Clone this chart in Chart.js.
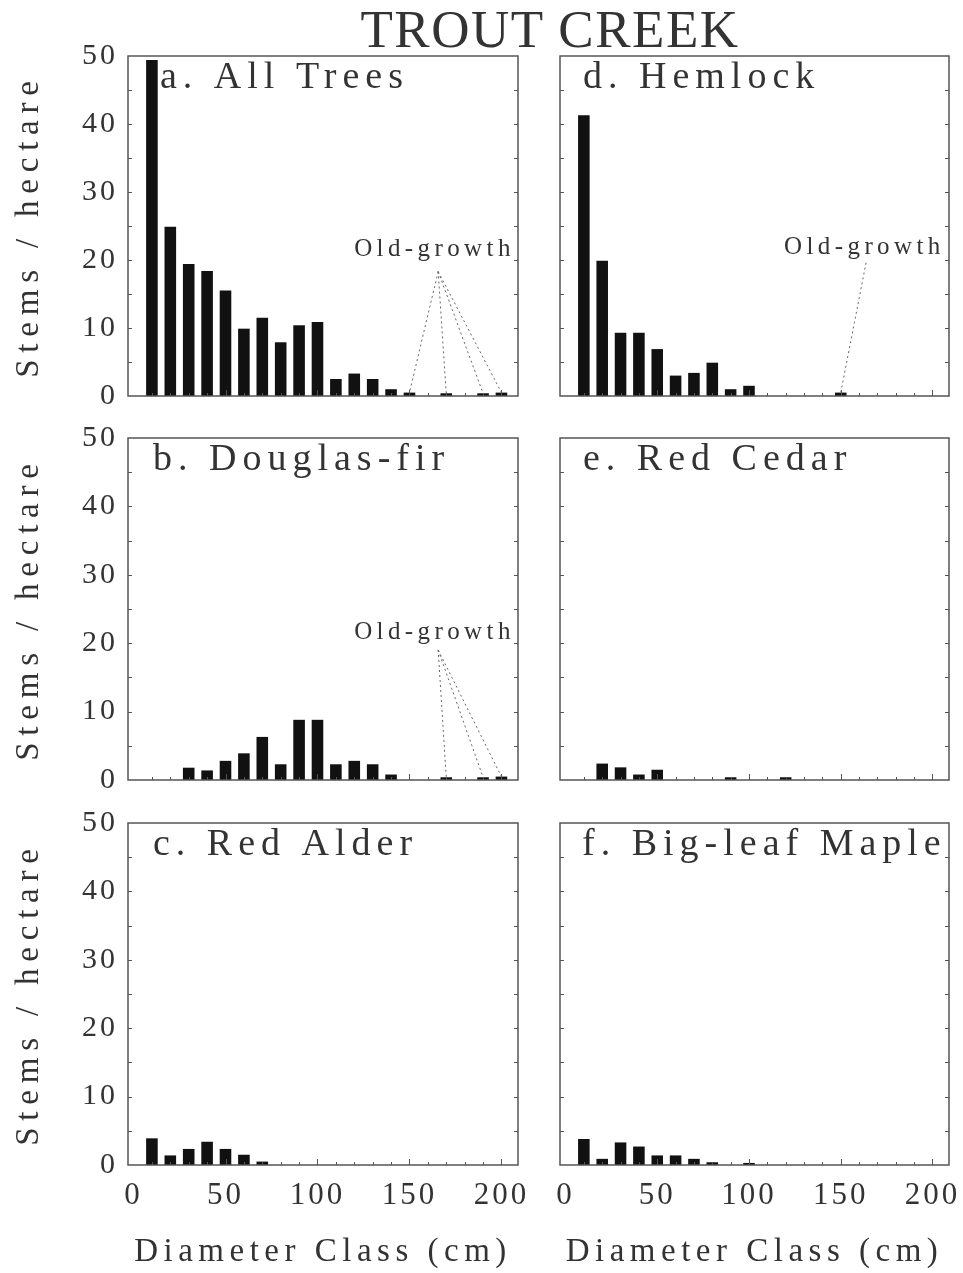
<!DOCTYPE html>
<html>
<head>
<meta charset="utf-8">
<script src="https://cdn.jsdelivr.net/npm/chart.js@4.4.1/dist/chart.umd.min.js"></script>
<style>
html,body{margin:0;padding:0;background:#fff;width:963px;height:1273px;overflow:hidden;}
canvas{position:absolute;}
#title{position:absolute;left:300px;width:500px;top:3px;text-align:center;
  font-family:"Liberation Serif",serif;font-size:53px;line-height:53px;letter-spacing:1.5px;color:#333;}
</style>
</head>
<body>
<div id="title">TROUT CREEK</div>
<canvas id="cA" width="540" height="420" style="left:0;top:0"></canvas>
<canvas id="cD" width="423" height="420" style="left:540px;top:0"></canvas>
<canvas id="cB" width="540" height="385" style="left:0;top:420px"></canvas>
<canvas id="cE" width="423" height="385" style="left:540px;top:420px"></canvas>
<canvas id="cC" width="540" height="468" style="left:0;top:805px"></canvas>
<canvas id="cF" width="423" height="468" style="left:540px;top:805px"></canvas>
<script>
// ---- data (stems / hectare by diameter class, cm) ----
const diameterClasses = [10,20,30,40,50,60,70,80,90,100,110,120,130,140,150,160,170,180,190,200];
const allTrees     = [49.4,24.9,19.4,18.4,15.5,9.9,11.5,7.9,10.4,10.9,2.5,3.3,2.5,1.0,0.5,0,0.4,0,0.4,0.5];
const douglasFir   = [0,0,1.8,1.4,2.8,3.9,6.3,2.3,8.8,8.8,2.3,2.8,2.3,0.8,0,0,0.4,0,0.4,0.5];
const redAlder     = [3.9,1.4,2.35,3.4,2.35,1.5,0.5,0,0,0,0,0,0,0,0,0,0,0,0,0];
const hemlock      = [41.3,19.9,9.3,9.3,6.9,3.0,3.4,4.9,1.0,1.5,0,0,0,0,0.5,0,0,0,0,0];
const redCedar     = [0,2.4,1.85,0.8,1.5,0,0,0,0.4,0,0,0.4,0,0,0,0,0,0,0,0];
const bigLeafMaple = [3.8,0.9,3.3,2.7,1.4,1.4,0.9,0.4,0,0.3,0,0,0,0,0,0,0,0,0,0];
const xTickLabels  = [0,50,100,150,200];
const yTickLabels  = [0,10,20,30,40,50];
// old-growth annotation: label anchor and apex (data units), target classes
const ogAllTrees = {text:[162.5,20.6], apex:[165.6,18.3], targets:[150,170,190,200]};
const ogDougFir  = {text:[162.5,20.6], apex:[165.6,19.0], targets:[170,190,200]};
const ogHemlock  = {text:[161.8,20.9], apex:[163.8,19.6], targets:[150]};

const FONT = '"Liberation Serif", "DejaVu Serif", serif';
const TXT = '#333';
const FRAME = '#555';
const TICK_SPACING = '3px';
const X_TITLE_SPACING = '5.5px';
const Y_TITLE_SPACING = '6.8px';

// letter spacing for axis text (typewriter look)
if (Chart.Scale && Chart.Scale.prototype) {
  const P = Chart.Scale.prototype;
  const oTitle = P.drawTitle, oLabels = P.drawLabels;
  P.drawTitle = function () {
    const c = this.ctx, prev = c.letterSpacing;
    c.letterSpacing = this.isHorizontal() ? X_TITLE_SPACING : Y_TITLE_SPACING;
    oTitle.apply(this, arguments); c.letterSpacing = prev || '0px';
  };
  P.drawLabels = function () {
    const c = this.ctx, prev = c.letterSpacing;
    c.letterSpacing = TICK_SPACING; oLabels.apply(this, arguments); c.letterSpacing = prev || '0px';
  };
}

const decor = {
  id: 'decor',
  afterDatasetsDraw(chart, args, opts) {
    const {ctx, chartArea: a, scales: {x, y}} = chart;
    ctx.save();
    ctx.strokeStyle = FRAME;
    ctx.lineWidth = 1.5;
    ctx.strokeRect(a.left, a.top, a.right - a.left, a.bottom - a.top);
    ctx.lineWidth = 1;
    for (let v = 5; v < 50; v += 5) {
      const py = Math.round(y.getPixelForValue(v)) + 0.5;
      ctx.beginPath();
      ctx.moveTo(a.left, py); ctx.lineTo(a.left + 4, py);
      ctx.moveTo(a.right - 4, py); ctx.lineTo(a.right, py);
      ctx.stroke();
    }
    for (let v = 10; v <= 200; v += 10) {
      const px = Math.round(x.getPixelForValue(v)) + 0.5;
      const len = v % 50 === 0 ? 6 : 3;
      ctx.beginPath();
      ctx.moveTo(px, a.bottom); ctx.lineTo(px, a.bottom - len);
      ctx.stroke();
    }
    // panel label
    ctx.fillStyle = TXT;
    ctx.font = '38px ' + FONT;
    ctx.letterSpacing = '6px';
    ctx.textBaseline = 'alphabetic';
    ctx.textAlign = 'left';
    ctx.fillText(opts.label, a.left + opts.dx, a.top + 32);
    // old-growth annotation
    const og = opts.og;
    if (og) {
      const vals = chart.data.datasets[0].data;
      ctx.font = '25px ' + FONT;
      ctx.letterSpacing = '4.4px';
      ctx.textAlign = 'center';
      ctx.fillText('Old-growth', x.getPixelForValue(og.text[0]) + 2, y.getPixelForValue(og.text[1]));
      ctx.strokeStyle = '#666';
      ctx.setLineDash([2, 3]);
      ctx.lineWidth = 1;
      const ax = x.getPixelForValue(og.apex[0]), ay = y.getPixelForValue(og.apex[1]);
      og.targets.forEach(t => {
        const pt = vals.find(p => p.x === t);
        ctx.beginPath();
        ctx.moveTo(ax, ay);
        ctx.lineTo(x.getPixelForValue(t), y.getPixelForValue(pt.y));
        ctx.stroke();
      });
    }
    ctx.letterSpacing = '0px';
    ctx.restore();
  }
};

function makePanel(id, values, cfg) {
  const left = cfg.col === 0;
  const bottom = cfg.row === 2;
  const pads = [{top:56, bottom:24}, {top:18, bottom:25}, {top:18, bottom:0}][cfg.row];
  new Chart(document.getElementById(id), {
    type: 'bar',
    data: {
      datasets: [{
        data: diameterClasses.map((d, i) => ({x: d, y: values[i]})),
        backgroundColor: '#111',
        borderWidth: 0,
        barPercentage: 0.63,
        categoryPercentage: 1.0
      }]
    },
    options: {
      responsive: false,
      animation: false,
      layout: {padding: {left: 0, right: left ? 22 : 14, top: pads.top, bottom: pads.bottom}},
      plugins: {
        legend: {display: false},
        tooltip: {enabled: false},
        decor: {label: cfg.label, dx: cfg.dx, og: cfg.og || null}
      },
      scales: {
        x: {
          type: 'linear',
          min: -3, max: 209,
          offset: false,
          grid: {display: false, drawTicks: false},
          border: {display: false},
          afterBuildTicks: s => { s.ticks = xTickLabels.map(v => ({value: v})); },
          afterFit: s => { s.height = bottom ? 108 : 0; s.paddingLeft = 0; s.paddingRight = 0; },
          ticks: {display: bottom, font: {family: FONT, size: 31}, color: TXT, padding: 12, maxRotation: 0, autoSkip: false},
          title: {display: bottom, text: 'Diameter Class (cm)', font: {family: FONT, size: 33}, color: TXT, padding: {top: 0, bottom: 1}}
        },
        y: {
          min: 0, max: 50,
          grid: {display: false, drawTicks: false},
          border: {display: false},
          afterBuildTicks: s => { s.ticks = yTickLabels.map(v => ({value: v})); },
          afterFit: s => { s.width = left ? 128 : 20; s.paddingTop = 0; s.paddingBottom = 0; },
          ticks: {display: left, font: {family: FONT, size: 30}, color: TXT, padding: 10},
          title: {display: left, text: 'Stems / hectare', font: {family: FONT, size: 33}, color: TXT, padding: {top: 10, bottom: 0}}
        }
      }
    },
    plugins: [decor]
  });
}

makePanel('cA', allTrees,     {col:0, row:0, label:'a. All Trees',      dx:32, og: ogAllTrees});
makePanel('cB', douglasFir,   {col:0, row:1, label:'b. Douglas-fir',    dx:25, og: ogDougFir});
makePanel('cC', redAlder,     {col:0, row:2, label:'c. Red Alder',      dx:25});
makePanel('cD', hemlock,      {col:1, row:0, label:'d. Hemlock',        dx:23, og: ogHemlock});
makePanel('cE', redCedar,     {col:1, row:1, label:'e. Red Cedar',      dx:23});
makePanel('cF', bigLeafMaple, {col:1, row:2, label:'f. Big-leaf Maple', dx:22});
</script>
</body>
</html>
